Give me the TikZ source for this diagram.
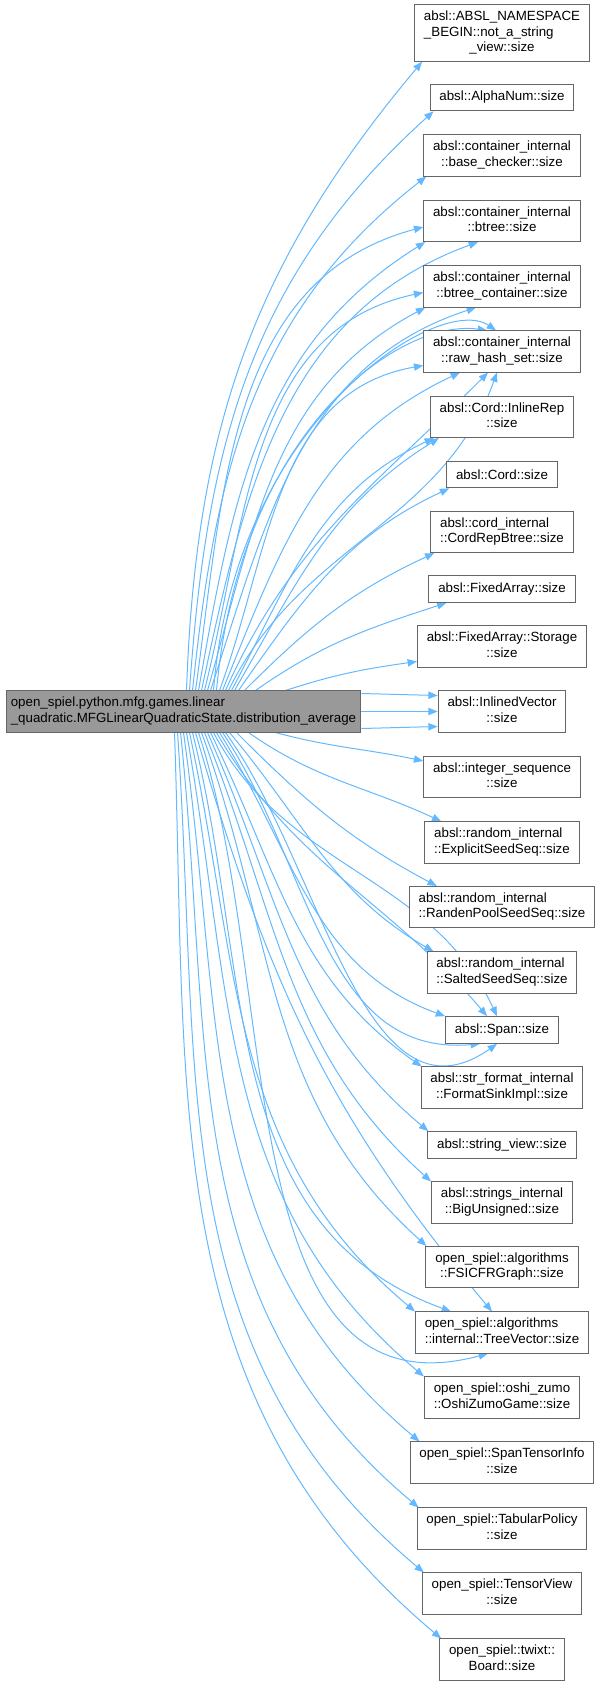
\documentclass[tikz,border=0pt]{standalone}
\usepackage{fontspec}
\setmainfont{Liberation Sans}
\usetikzlibrary{arrows.meta,backgrounds}
\definecolor{callblue}{HTML}{63B8FF}
\definecolor{boxgray}{HTML}{666666}
\definecolor{rootgray}{HTML}{999999}
\newcommand{\fnlines}[2]{\begin{tabular}{@{}l@{}}#1\\\multicolumn{1}{@{}c@{}}{#2}\end{tabular}}

\begin{document}
\begin{tikzpicture}[
			x=0.75pt, y=0.75pt,
			fn/.style={rectangle, draw=boxgray, line width=0.75pt, fill=white, inner xsep=7pt, inner ysep=3.9pt, minimum height=20pt, font=\fontsize{10}{11.5}\selectfont},
			root/.style={fn, fill=rootgray, inner xsep=3.6pt},
			call/.style={draw=callblue, line width=0.75pt, -{Triangle[length=7pt,width=5.5pt]}}
			]
			\useasboundingbox (0,0) rectangle (600,-1686);
			\node[root] (root) at (183.5,-711.5) {\begin{tabular}{@{}l@{}}open\_spiel.python.mfg.games.linear\\\_quadratic.MFGLinearQuadraticState.distribution\_average\end{tabular}};
			
			\node[fn] (notastr) at (502,-33) {\begin{tabular}{@{}l@{}}absl::ABSL\_NAMESPACE\\\_BEGIN::not\_a\_string\\\multicolumn{1}{@{}c@{}}{\_view::size}\end{tabular}};
			\node[fn] (alphanum) at (502,-97.5) {absl::AlphaNum::size};
			\node[fn] (basechk) at (502,-155.5) {\fnlines{absl::container\_internal}{::base\_checker::size}};
			\node[fn] (btree) at (502,-221) {\fnlines{absl::container\_internal}{::btree::size}};
			\node[fn] (btreecont) at (502,-286.5) {\fnlines{absl::container\_internal}{::btree\_container::size}};
			\node[fn] (rawhash) at (502,-351.5) {\fnlines{absl::container\_internal}{::raw\_hash\_set::size}};
			\node[fn] (inlinerep) at (502,-417) {\fnlines{absl::Cord::InlineRep}{::size}};
			\node[fn] (cordsize) at (502,-474.5) {absl::Cord::size};
			\node[fn] (cordbtree) at (502,-532) {\fnlines{absl::cord\_internal}{::CordRepBtree::size}};
			\node[fn] (fixarr) at (502,-589) {absl::FixedArray::size};
			\node[fn] (fixstore) at (502,-646.5) {\fnlines{absl::FixedArray::Storage}{::size}};
			\node[fn] (inlvec) at (502,-711.5) {\fnlines{absl::InlinedVector}{::size}};
			\node[fn] (intseq) at (502,-777) {\fnlines{absl::integer\_sequence}{::size}};
			\node[fn] (explseed) at (502,-842.5) {\fnlines{absl::random\_internal}{::ExplicitSeedSeq::size}};
			\node[fn] (randpool) at (502,-907) {\fnlines{absl::random\_internal}{::RandenPoolSeedSeq::size}};
			\node[fn] (saltseed) at (502,-972.5) {\fnlines{absl::random\_internal}{::SaltedSeedSeq::size}};
			\node[fn] (span) at (502,-1030) {absl::Span::size};
			\node[fn] (fmtsink) at (502,-1087.5) {\fnlines{absl::str\_format\_internal}{::FormatSinkImpl::size}};
			\node[fn] (strview) at (502,-1145) {absl::string\_view::size};
			\node[fn] (bigunsig) at (502,-1202.5) {\fnlines{absl::strings\_internal}{::BigUnsigned::size}};
			\node[fn] (fsicfr) at (502,-1267) {\fnlines{open\_spiel::algorithms}{::FSICFRGraph::size}};
			\node[fn] (treevec) at (502,-1332.5) {\fnlines{open\_spiel::algorithms}{::internal::TreeVector::size}};
			\node[fn] (oshizumo) at (502,-1397.5) {\fnlines{open\_spiel::oshi\_zumo}{::OshiZumoGame::size}};
			\node[fn] (spantens) at (502,-1462.5) {\fnlines{open\_spiel::SpanTensorInfo}{::size}};
			\node[fn] (tabpol) at (502,-1528.5) {\fnlines{open\_spiel::TabularPolicy}{::size}};
			\node[fn] (tensview) at (502,-1593.5) {\fnlines{open\_spiel::TensorView}{::size}};
			\node[fn] (board) at (502,-1659.5) {\fnlines{open\_spiel::twixt::}{Board::size}};
			
			\begin{scope}[on background layer]
			% calls going up
			\draw[call] ([shift={(181,0)}]root.north west) to[out=88,in=230] ([shift={(8,0)}]notastr.south west);
			\draw[call] ([shift={(184,0)}]root.north west) to[out=86,in=222] ([shift={(4,0)}]alphanum.south west);
			\draw[call] ([shift={(187,0)}]root.north west) to[out=84,in=218] ([shift={(3,0)}]basechk.south west);
			\draw[call] ([shift={(190,0)}]root.north west) to[out=82,in=195] ([shift={(0,-6)}]btree.west);
			\draw[call] ([shift={(193,0)}]root.north west) to[out=80,in=212] ([shift={(2,0)}]btree.south west);
			\draw[call] ([shift={(196,0)}]root.north west) to[out=78,in=200] ([shift={(-24,0)}]btree.south);
			\draw[call] ([shift={(199,0)}]root.north west) to[out=76,in=192] ([shift={(0,-6)}]btreecont.west);
			\draw[call] ([shift={(202,0)}]root.north west) to[out=74,in=208] ([shift={(2,0)}]btreecont.south west);
			\draw[call] ([shift={(205,0)}]root.north west) to[out=72,in=198] ([shift={(-26,0)}]btreecont.south);
			\draw[call] ([shift={(208,0)}]root.north west) .. controls (235,-420) and (440,-292) .. ([shift={(-6,0)}]rawhash.north);
			\draw[call] ([shift={(211,0)}]root.north west) .. controls (240,-430) and (400,-318) .. ([shift={(-15,0)}]rawhash.north);
			\draw[call] ([shift={(214,0)}]root.north west) to[out=70,in=190] ([shift={(0,-14)}]rawhash.west);
			\draw[call] ([shift={(217,0)}]root.north west) to[out=68,in=205] ([shift={(-42,0)}]rawhash.south);
			\draw[call] ([shift={(220,0)}]root.north west) to[out=66,in=225] ([shift={(-14,0)}]rawhash.south);
			\draw[call] ([shift={(223,0)}]root.north west) to[out=64,in=250] ([shift={(-5,0)}]rawhash.south);
			\draw[call] ([shift={(226,0)}]root.north west) to[out=62,in=205] ([shift={(4,0)}]inlinerep.south west);
			\draw[call] ([shift={(229,0)}]root.north west) to[out=60,in=212] ([shift={(9,0)}]inlinerep.south west);
			\draw[call] ([shift={(233,0)}]root.north west) to[out=55,in=205] ([shift={(3,0)}]cordsize.south west);
			\draw[call] ([shift={(239,0)}]root.north west) to[out=45,in=205] ([shift={(4,0)}]cordbtree.south west);
			\draw[call] ([shift={(250,0)}]root.north west) to[out=35,in=198] ([shift={(18,0)}]fixarr.south west);
			\draw[call] ([shift={(280,0)}]root.north west) to[out=18,in=188] ([shift={(0,-15)}]fixstore.west);
			
			% calls straight across
			\draw[call] ([shift={(0,18)}]root.east) -- ([shift={(0,16)}]inlvec.west);
			\draw[call] (root.east) -- (inlvec.west);
			\draw[call] ([shift={(0,-17)}]root.east) -- ([shift={(0,-15)}]inlvec.west);
			
			% calls going down
			\draw[call] ([shift={(270,0)}]root.south west) to[out=-15,in=168] ([shift={(0,-5)}]intseq.north west);
			\draw[call] ([shift={(243,0)}]root.south west) to[out=-35,in=155] ([shift={(17,0)}]explseed.north west);
			\draw[call] ([shift={(231,0)}]root.south west) to[out=-45,in=152] ([shift={(28,0)}]randpool.north west);
			\draw[call] ([shift={(224,0)}]root.south west) to[out=-50,in=150] ([shift={(7,0)}]saltseed.north west);
			\draw[call] ([shift={(220,0)}]root.south west) to[out=-54,in=215] ([shift={(-5,0)}]span.south);
			\draw[call] ([shift={(217,0)}]root.south west) to[out=-56,in=185] ([shift={(-22,0)}]span.south);
			\draw[call] ([shift={(214,0)}]root.south west) to[out=-58,in=160] (span.north west);
			\draw[call] ([shift={(211,0)}]root.south west) to[out=-60,in=130] ([shift={(-15,0)}]span.north);
			\draw[call] ([shift={(208,0)}]root.south west) to[out=-62,in=115] ([shift={(-5,0)}]span.north);
			\draw[call] ([shift={(205,0)}]root.south west) to[out=-64,in=145] ([shift={(1,0)}]fmtsink.north west);
			\draw[call] ([shift={(202,0)}]root.south west) to[out=-66,in=140] ([shift={(1,0)}]strview.north west);
			\draw[call] ([shift={(199,0)}]root.south west) to[out=-68,in=138] (bigunsig.north west);
			\draw[call] ([shift={(196,0)}]root.south west) to[out=-70,in=138] ([shift={(1,0)}]fsicfr.north west);
			\draw[call] ([shift={(193,0)}]root.south west) to[out=-72,in=195] ([shift={(-14,0)}]treevec.south);
			\draw[call] ([shift={(190,0)}]root.south west) to[out=-74,in=130] ([shift={(-10,0)}]treevec.north);
			\draw[call] ([shift={(187,0)}]root.south west) to[out=-76,in=160] ([shift={(36,0)}]treevec.north west);
			\draw[call] ([shift={(184,0)}]root.south west) to[out=-78,in=140] (treevec.north west);
			\draw[call] ([shift={(181,0)}]root.south west) to[out=-80,in=140] (oshizumo.north west);
			\draw[call] ([shift={(178,0)}]root.south west) to[out=-82,in=140] ([shift={(10,0)}]spantens.north west);
			\draw[call] ([shift={(175,0)}]root.south west) to[out=-84,in=140] ([shift={(2,0)}]tabpol.north west);
			\draw[call] ([shift={(172,0)}]root.south west) to[out=-86,in=140] ([shift={(2,0)}]tensview.north west);
			\draw[call] ([shift={(169,0)}]root.south west) to[out=-88,in=140] ([shift={(2,0)}]board.north west);
			\end{scope}
		\end{tikzpicture}
\end{document}
